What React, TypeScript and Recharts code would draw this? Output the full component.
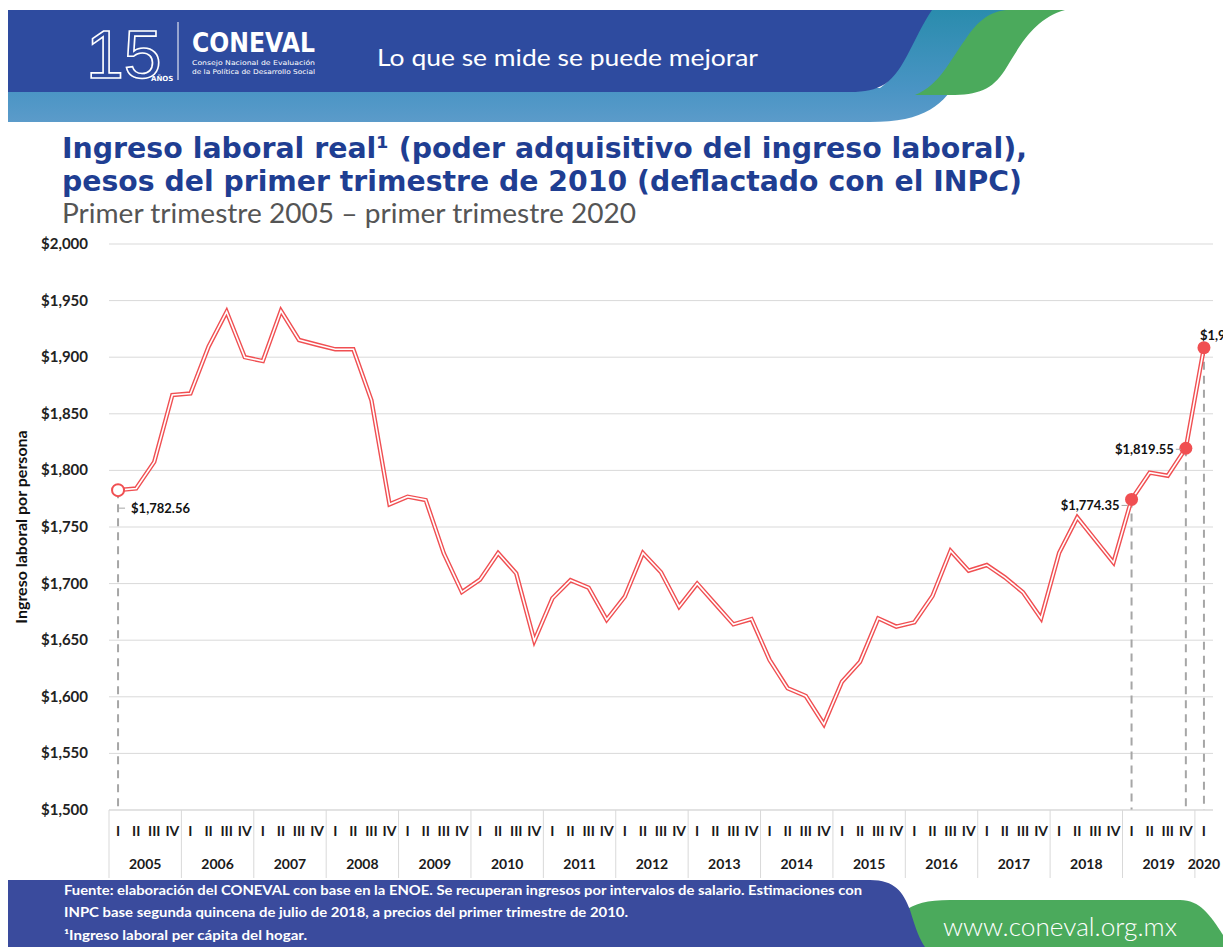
import React from 'react';
import { LineChart, Line, XAxis, YAxis, CartesianGrid, ReferenceLine } from 'recharts';

const years = ['2005', '2006', '2007', '2008', '2009', '2010', '2011', '2012', '2013', '2014', '2015', '2016', '2017', '2018', '2019', '2020'];
const quarters = ['I', 'II', 'III', 'IV'];
const ingreso = [
  1782.56, 1784.0, 1807.5, 1866.6,
  1868.0, 1909.3, 1940.2, 1900.0,
  1896.6, 1941.0, 1915.2, 1911.0,
  1907.0, 1907.0, 1862.0, 1770.0,
  1776.8, 1773.8, 1726.7, 1692.5,
  1703.5, 1727.0, 1709.0, 1649.5,
  1687.0, 1703.0, 1696.4, 1668.0,
  1688.4, 1727.0, 1710.0, 1679.6,
  1700.0, 1682.0, 1664.0, 1668.7,
  1632.5, 1607.5, 1600.7, 1575.7,
  1613.3, 1631.0, 1669.3, 1662.0,
  1665.8, 1689.0, 1729.0, 1711.4,
  1716.4, 1705.5, 1692.3, 1669.3,
  1727.3, 1758.5, 1738.5, 1718.5,
  1774.35, 1798.0, 1795.3, 1819.55,
  1908.4,
];
const yTicks = [1500, 1550, 1600, 1650, 1700, 1750, 1800, 1850, 1900, 1950, 2000];
const highlighted = [0, 56, 59, 60];

const data = ingreso.map((v, i) => {
  const year = years[Math.floor(i / 4)];
  const q = quarters[i % 4];
  return { key: `${year}-${q}`, year, q, qi: i % 4, v };
});

const yearCount = (year: string) => data.filter((d) => d.year === year).length;

const fmt = (v: number) =>
  '$' + v.toLocaleString('en-US', { minimumFractionDigits: 2, maximumFractionDigits: 2 });

const LABEL_FONT = 'Lato, "Open Sans", sans-serif';
const RED = '#F04F52';
const DASH = '#A6A6A6';
const PLOT_W = 1104;
const HALF = PLOT_W / data.length / 2; // half a quarter slot

const QuarterTick = ({ x, y, payload }: any) => {
  const d = data[payload.index];
  if (!d) return <g />;
  return (
    <text x={x} y={y + 26} textAnchor="middle" fontFamily={LABEL_FONT} fontWeight={700} fontSize={14} fill="#1a1a1a">
      {d.q}
    </text>
  );
};

const YearTick = ({ x, y, payload }: any) => {
  const d = data[payload.index];
  if (!d) return <g />;
  const n = yearCount(d.year);
  const showLabel = (n === 4 && d.qi === 1) || (n === 1 && d.qi === 0);
  const lx = n === 4 ? x + HALF : x;
  return (
    <g>
      {d.qi === 0 && <line x1={x - HALF} x2={x - HALF} y1={y - 34} y2={y + 34} stroke="#D9D9D9" strokeWidth={1} />}
      {showLabel && (
        <text x={lx} y={y + 25} textAnchor="middle" fontFamily={LABEL_FONT} fontWeight={700} fontSize={14} fill="#1a1a1a">
          {d.year}
        </text>
      )}
    </g>
  );
};

const YTick = ({ x, y, payload }: any) => (
  <text x={x - 21} y={y + 5} textAnchor="end" fontFamily={LABEL_FONT} fontWeight={700} fontSize={15} fill="#222">
    {'$' + payload.value.toLocaleString('en-US')}
  </text>
);

// label placement next to each highlighted point
const labelPos: Record<number, { dx: number; dy: number; anchor: string; lead?: number[] }> = {
  0: { dx: 13, dy: 23, anchor: 'start', lead: [1, 18, 7, 18] },
  56: { dx: -12, dy: 11, anchor: 'end', lead: [-10, 6, -4, 6] },
  59: { dx: -12, dy: 6, anchor: 'end', lead: [-10, 1, -5, 1] },
  60: { dx: -4, dy: -8, anchor: 'start' },
};

const renderDot = (props: any) => {
  const { cx, cy, index, value } = props;
  if (!highlighted.includes(index)) return <g key={`d-${index}`} />;
  const p = labelPos[index];
  return (
    <g key={`d-${index}`}>
      {index === 0 ? (
        <circle cx={cx} cy={cy} r={6} fill="#fff" stroke={RED} strokeWidth={2} />
      ) : (
        <circle cx={cx} cy={cy} r={6.5} fill={RED} stroke="none" />
      )}
      {p.lead && (
        <line x1={cx + p.lead[0]} y1={cy + p.lead[1]} x2={cx + p.lead[2]} y2={cy + p.lead[3]} stroke={DASH} strokeWidth={1} />
      )}
      <text x={cx + p.dx} y={cy + p.dy} textAnchor={p.anchor as any} fontFamily={LABEL_FONT} fontWeight={700} fontSize={13} fill="#111">
        {fmt(value)}
      </text>
    </g>
  );
};

const Header = () => (
  <svg width={1223} height={947} style={{ position: 'absolute', left: 0, top: 0, pointerEvents: 'none' }}>
    <defs>
      <linearGradient id="swoosh" x1="0" y1="0" x2="0" y2="1">
        <stop offset="0%" stopColor="#2A8CAD" />
        <stop offset="70%" stopColor="#4994C4" />
        <stop offset="100%" stopColor="#5B9BCA" />
      </linearGradient>
    </defs>
    {/* banner */}
    <path d="M8,88 L880,88 C900,75 910,40 930,10 L1010,10 C990,20 975,45 960,75 C945,105 925,122 870,122 L8,122 Z" fill="url(#swoosh)" />
    <path d="M8,10 L932,10 C912,40 905,70 885,84 C875,90 865,92 850,92 L8,92 Z" fill="#2E4B9F" />
    <path d="M1006,10 L1065,10 C1035,18 1020,45 1005,70 C992,90 978,95 950,95 L915,95 C940,85 950,60 965,40 C978,20 990,12 1006,10 Z" fill="#4BAA5C" />
    {/* logo */}
    <text x={86} y={78} fontFamily='"Liberation Sans Narrow", sans-serif' fontSize={68} fill="none" stroke="#fff" strokeWidth={1.6}>15</text>
    <text x={151} y={81} fontFamily="DejaVu Sans" fontSize={7} fontWeight={700} fill="#fff">AÑOS</text>
    <line x1={178} y1={22} x2={178} y2={80} stroke="#fff" strokeWidth={1} />
    <text x={192} y={52} fontFamily="DejaVu Sans" fontWeight={900} fontSize={27} fill="#fff" textLength={123} lengthAdjust="spacingAndGlyphs">CONEVAL</text>
    <text x={192} y={65} fontFamily="DejaVu Sans" fontSize={6.5} fill="#fff" textLength={123} lengthAdjust="spacingAndGlyphs">Consejo Nacional de Evaluación</text>
    <text x={192} y={74} fontFamily="DejaVu Sans" fontSize={6.5} fill="#fff" textLength={123} lengthAdjust="spacingAndGlyphs">de la Política de Desarrollo Social</text>
    <text x={377} y={66} fontFamily="Lato, sans-serif" fontWeight={400} fontSize={23} fill="#fff" textLength={381} lengthAdjust="spacingAndGlyphs">Lo que se mide se puede mejorar</text>

    {/* title */}
    <text x={62} y={158} fontFamily="DejaVu Sans" fontWeight={700} fontSize={29} fill="#1F3E92" textLength={965} lengthAdjust="spacingAndGlyphs">
      Ingreso laboral real¹ (poder adquisitivo del ingreso laboral),
    </text>
    <text x={62} y={191} fontFamily="DejaVu Sans" fontWeight={700} fontSize={29} fill="#1F3E92" textLength={960} lengthAdjust="spacingAndGlyphs">
      pesos del primer trimestre de 2010 (deflactado con el INPC)
    </text>
    <text x={62} y={223} fontFamily="Lato, sans-serif" fontWeight={400} fontSize={27} fill="#555" textLength={574} lengthAdjust="spacingAndGlyphs">
      Primer trimestre 2005 – primer trimestre 2020
    </text>

    {/* y axis title */}
    <text x={0} y={0} transform="translate(27,527) rotate(-90)" textAnchor="middle" fontFamily={LABEL_FONT} fontWeight={700} fontSize={16} fill="#111">
      Ingreso laboral por persona
    </text>

    {/* footer */}
    <path d="M880,947 C895,915 905,900 950,900 L1180,900 C1200,900 1210,915 1223,935 L1223,947 Z" fill="#4BAA5C" />
    <path d="M8,880 L870,880 C895,880 903,892 910,910 C916,930 920,940 925,947 L8,947 Z" fill="#3A4B9D" />
    <text x={64} y={895} fontFamily={LABEL_FONT} fontWeight={700} fontSize={13.5} fill="#fff" textLength={798} lengthAdjust="spacingAndGlyphs">
      Fuente: elaboración del CONEVAL con base en la ENOE. Se recuperan ingresos por intervalos de salario. Estimaciones con
    </text>
    <text x={64} y={917} fontFamily={LABEL_FONT} fontWeight={700} fontSize={13.5} fill="#fff" textLength={564} lengthAdjust="spacingAndGlyphs">
      INPC base segunda quincena de julio de 2018, a precios del primer trimestre de 2010.
    </text>
    <text x={64} y={940} fontFamily={LABEL_FONT} fontWeight={700} fontSize={13.5} fill="#fff" textLength={243} lengthAdjust="spacingAndGlyphs">
      ¹Ingreso laboral per cápita del hogar.
    </text>
    <text x={943} y={936} fontFamily="Lato, sans-serif" fontWeight={300} fontSize={25} fill="#fff" textLength={234} lengthAdjust="spacingAndGlyphs">
      www.coneval.org.mx
    </text>
  </svg>
);

export default function App() {
  return (
    <div style={{ position: 'absolute', left: 0, top: 0, width: 1223, height: 947, overflow: 'hidden', background: '#fff' }}>
      <LineChart width={1223} height={947} data={data} margin={{ top: 244, right: 10, left: 0, bottom: 69 }}>
        <CartesianGrid vertical={false} stroke="#D9D9D9" strokeWidth={1} />
        <XAxis
          dataKey="key"
          interval={0}
          height={34}
          padding={{ left: HALF, right: HALF }}
          tickSize={0}
          tickMargin={0}
          axisLine={{ stroke: '#D9D9D9' }}
          tickLine={false}
          tick={<QuarterTick />}
        />
        <XAxis
          xAxisId="year"
          dataKey="key"
          interval={0}
          height={34}
          padding={{ left: HALF, right: HALF }}
          tickSize={0}
          tickMargin={0}
          axisLine={false}
          tickLine={false}
          tick={<YearTick />}
        />
        <YAxis
          domain={[1500, 2000]}
          ticks={yTicks}
          width={109}
          tickSize={0}
          tickMargin={0}
          axisLine={false}
          tickLine={false}
          tick={<YTick />}
        />
        {highlighted.map((i) => (
          <ReferenceLine
            key={`r-${i}`}
            segment={[{ x: data[i].key, y: data[i].v }, { x: data[i].key, y: 1500 }]}
            stroke={DASH}
            strokeWidth={2}
            strokeDasharray="8 6"
            ifOverflow="visible"
          />
        ))}
        <Line type="linear" dataKey="v" stroke={RED} strokeWidth={4.4} dot={false} activeDot={false} isAnimationActive={false} />
        <Line type="linear" xAxisId="year" dataKey="v" stroke="#fff" strokeWidth={1.6} dot={renderDot} activeDot={false} isAnimationActive={false} />
      </LineChart>
      <Header />
    </div>
  );
}
